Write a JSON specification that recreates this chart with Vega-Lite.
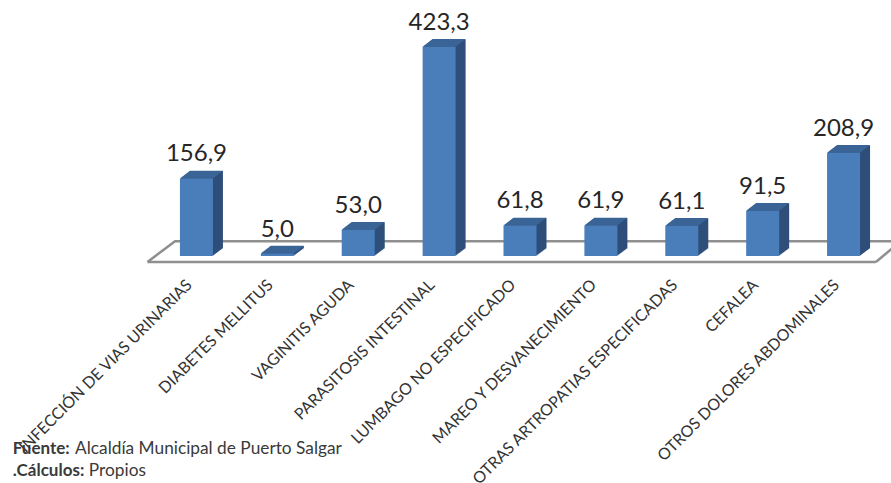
{"$schema":"https://vega.github.io/schema/vega-lite/v6.json","width":728,"height":217.4,"autosize":"none","padding":{"left":156,"top":38.6,"right":7,"bottom":227},"background":"white","config":{"view":{"stroke":null},"font":"Lato"},"datasets":{"bars":[{"causa":"INFECCIÓN DE VIAS URINARIAS","valor":156.9,"etiqueta":"156,9"},{"causa":"DIABETES MELLITUS","valor":5.0,"etiqueta":"5,0"},{"causa":"VAGINITIS AGUDA","valor":53.0,"etiqueta":"53,0"},{"causa":"PARASITOSIS INTESTINAL","valor":423.3,"etiqueta":"423,3"},{"causa":"LUMBAGO NO ESPECIFICADO","valor":61.8,"etiqueta":"61,8"},{"causa":"MAREO Y DESVANECIMIENTO","valor":61.9,"etiqueta":"61,9"},{"causa":"OTRAS ARTROPATIAS ESPECIFICADAS","valor":61.1,"etiqueta":"61,1"},{"causa":"CEFALEA","valor":91.5,"etiqueta":"91,5"},{"causa":"OTROS DOLORES ABDOMINALES","valor":208.9,"etiqueta":"208,9"}],"floor":[{"u":-0.105,"v":-12,"o":1,"e":"a"},{"u":8.9,"v":-12,"o":2,"e":"a"},{"u":-0.105,"v":-12,"o":1,"e":"b"},{"u":0.235,"v":30,"o":2,"e":"b"},{"u":9.3,"v":30,"o":3,"e":"b"},{"u":8.9,"v":-12,"o":1,"e":"c"},{"u":9.21,"v":30,"o":2,"e":"c"}],"notesB":[{"u":-1.77,"v":-400,"t":"Fuente:"},{"u":-1.77,"v":-445,"t":".Cálculos:"}],"notesN":[{"u":-1.0,"v":-400,"t":"Alcaldía Municipal de Puerto Salgar"},{"u":-0.83,"v":-445,"t":"Propios"}]},"resolve":{"scale":{"x":"independent"}},"layer":[{"data":{"name":"floor"},"mark":{"type":"line","color":"#8f8f8f","strokeWidth":2.5,"clip":false},"encoding":{"x":{"field":"u","type":"quantitative","scale":{"domain":[0,9]},"axis":null},"y":{"field":"v","type":"quantitative","scale":{"domain":[0,440]},"axis":null},"detail":{"field":"e"},"order":{"field":"o"}}},{"data":{"name":"bars"},"encoding":{"x":{"field":"causa","type":"nominal","sort":null,"scale":{"paddingInner":0.592,"paddingOuter":0.296},"axis":{"title":null,"domain":false,"ticks":false,"labelAngle":-45,"labelAlign":"right","labelBaseline":"middle","labelFont":"Lato","labelFontSize":16,"labelColor":"#333333","labelPadding":26,"labelOffset":-7,"labelLimit":400,"labelOverlap":false,"labelBound":false,"grid":false}},"y":{"field":"valor","type":"quantitative","scale":{"domain":[0,440]},"axis":null}},"layer":[{"mark":{"type":"bar","color":"#2f4f7a","xOffset":10,"yOffset":-7.5}},{"mark":{"type":"bar","color":"#2f4f7a","xOffset":9,"yOffset":-6.75}},{"mark":{"type":"bar","color":"#2f4f7a","xOffset":8,"yOffset":-6}},{"mark":{"type":"bar","color":"#2f4f7a","xOffset":7,"yOffset":-5.25}},{"mark":{"type":"bar","color":"#2f4f7a","xOffset":6,"yOffset":-4.5}},{"mark":{"type":"bar","color":"#2f4f7a","xOffset":5,"yOffset":-3.75}},{"mark":{"type":"bar","color":"#2f4f7a","xOffset":4,"yOffset":-3}},{"mark":{"type":"bar","color":"#2f4f7a","xOffset":3,"yOffset":-2.25}},{"mark":{"type":"bar","color":"#2f4f7a","xOffset":2,"yOffset":-1.5}},{"mark":{"type":"bar","color":"#2f4f7a","xOffset":1,"yOffset":-0.75}},{"mark":{"type":"point","filled":true,"opacity":1,"color":"#3a6396","size":1089,"strokeWidth":0,"shape":"M-1,0L1,0L1.606,-0.47L-0.394,-0.47Z"}},{"mark":{"type":"bar","color":"#4a7ebb"}},{"mark":{"type":"text","font":"Lato","fontSize":24,"color":"#262626","baseline":"alphabetic","align":"center","yOffset":-17},"encoding":{"text":{"field":"etiqueta"}}}]},{"data":{"name":"notesB"},"mark":{"type":"text","font":"Lato","fontSize":17,"fontWeight":"bold","color":"#3a3a3a","align":"left","baseline":"alphabetic","clip":false},"encoding":{"x":{"field":"u","type":"quantitative","scale":{"domain":[0,9]},"axis":null},"y":{"field":"v","type":"quantitative","scale":{"domain":[0,440]},"axis":null},"text":{"field":"t"}}},{"data":{"name":"notesN"},"mark":{"type":"text","font":"Lato","fontSize":17.3,"color":"#3a3a3a","align":"left","baseline":"alphabetic","clip":false},"encoding":{"x":{"field":"u","type":"quantitative","scale":{"domain":[0,9]},"axis":null},"y":{"field":"v","type":"quantitative","scale":{"domain":[0,440]},"axis":null},"text":{"field":"t"}}}]}
